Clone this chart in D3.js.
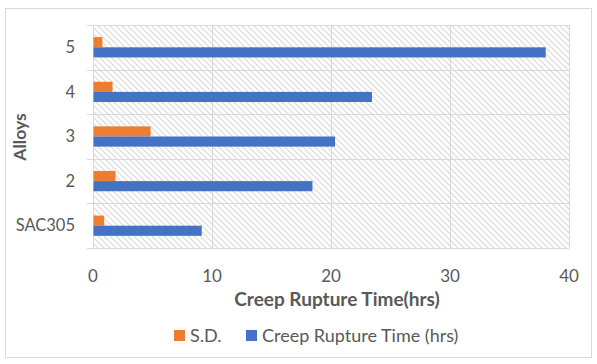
<!DOCTYPE html>
<html>
<head>
<meta charset="utf-8">
<script src="https://cdn.jsdelivr.net/npm/d3@7"></script>
<style>
  body { margin: 0; background: #fff; }
  svg text { font-family: Lato, "Open Sans", sans-serif; fill: #595959; }
</style>
</head>
<body>
<div id="chart"></div>
<script>
var alloys = ["SAC305", "2", "3", "4", "5"];
var sdValues = [0.9, 1.85, 4.8, 1.6, 0.75];
var ruptureValues = [9.1, 18.4, 20.3, 23.4, 38.0];
var xTicks = [0, 10, 20, 30, 40];
var seriesNames = ["S.D.", "Creep Rupture Time (hrs)"];
var seriesColors = ["#ed7d31", "#4472c4"];

var W = 597, H = 364;
var margin = {left: 93, right: 28, top: 25, bottom: 116};

var svg = d3.select("#chart").append("svg")
    .attr("width", W).attr("height", H);

// hatch for the plot area
var defs = svg.append("defs");
var pat = defs.append("pattern")
    .attr("id", "hatch")
    .attr("patternUnits", "userSpaceOnUse")
    .attr("width", 6).attr("height", 6);
pat.append("rect").attr("width", 6).attr("height", 6).attr("fill", "#fff");
pat.append("path")
    .attr("d", "M-1,-1 L7,7 M-1,5 L1,7 M5,-1 L7,1")
    .attr("stroke", "#d9d9d9").attr("stroke-width", 1.1);

// outer frame
svg.append("rect")
    .attr("x", 5.5).attr("y", 8.5)
    .attr("width", 586).attr("height", 349)
    .attr("fill", "#fff").attr("stroke", "#d9d9d9");

var x = d3.scaleLinear().domain([0, 40]).range([margin.left, W - margin.right]);
var y = d3.scaleBand().domain(alloys.slice().reverse())
    .range([margin.top, H - margin.bottom]);
var inner = d3.scaleBand().domain(seriesNames)
    .range([0, y.bandwidth()]).paddingOuter(1.2);

svg.append("rect")
    .attr("x", x(0)).attr("y", margin.top)
    .attr("width", x(40) - x(0)).attr("height", H - margin.bottom - margin.top)
    .attr("fill", "url(#hatch)");

// vertical gridlines
svg.append("g").selectAll("line")
    .data(xTicks)
    .enter().append("line")
    .attr("x1", function(d) { return Math.round(x(d)) + 0.5; })
    .attr("x2", function(d) { return Math.round(x(d)) + 0.5; })
    .attr("y1", margin.top).attr("y2", H - margin.bottom)
    .attr("stroke", "#d9d9d9");

// horizontal category lines with outward ticks
var edges = alloys.map(function(a) { return y(a); }).concat([H - margin.bottom]);
svg.append("g").selectAll("line")
    .data(edges)
    .enter().append("line")
    .attr("x1", margin.left - 6).attr("x2", x(40))
    .attr("y1", function(d) { return Math.round(d) + 0.5; })
    .attr("y2", function(d) { return Math.round(d) + 0.5; })
    .attr("stroke", "#d9d9d9");

// bars
var series = [sdValues, ruptureValues];
series.forEach(function(vals, s) {
    svg.append("g").selectAll("rect")
        .data(alloys)
        .enter().append("rect")
        .attr("x", x(0) + 0.5)
        .attr("y", function(d) { return y(d) + inner(seriesNames[s]); })
        .attr("width", function(d, i) { return x(vals[i]) - x(0); })
        .attr("height", inner.bandwidth())
        .attr("fill", seriesColors[s]);
});

// y labels
svg.append("g").selectAll("text")
    .data(alloys)
    .enter().append("text")
    .attr("x", 75)
    .attr("y", function(d) { return y(d) + y.bandwidth() / 2; })
    .attr("dy", "0.35em")
    .attr("text-anchor", "end")
    .style("font-size", "16.5px")
    .text(function(d) { return d; });

// x tick labels
svg.append("g").selectAll("text")
    .data(xTicks)
    .enter().append("text")
    .attr("x", function(d) { return x(d); })
    .attr("y", 276)
    .attr("dy", "0.35em")
    .attr("text-anchor", "middle")
    .style("font-size", "17px")
    .text(function(d) { return d; });

// axis titles
svg.append("text")
    .attr("x", 337).attr("y", 299).attr("dy", "0.35em")
    .attr("text-anchor", "middle")
    .style("font-size", "19px").style("font-weight", "bold")
    .text("Creep Rupture Time(hrs)");

svg.append("text")
    .attr("transform", "translate(20,137) rotate(-90)")
    .attr("dy", "0.35em")
    .attr("text-anchor", "middle")
    .style("font-size", "17.5px").style("font-weight", "bold")
    .text("Alloys");

// legend
var legendX = [174, 246];
seriesNames.forEach(function(n, i) {
    svg.append("rect")
        .attr("x", legendX[i]).attr("y", 330)
        .attr("width", 11).attr("height", 11)
        .attr("fill", seriesColors[i]);
    svg.append("text")
        .attr("x", legendX[i] + 16).attr("y", 336).attr("dy", "0.35em")
        .style("font-size", "18px")
        .text(n);
});
</script>
</body>
</html>
